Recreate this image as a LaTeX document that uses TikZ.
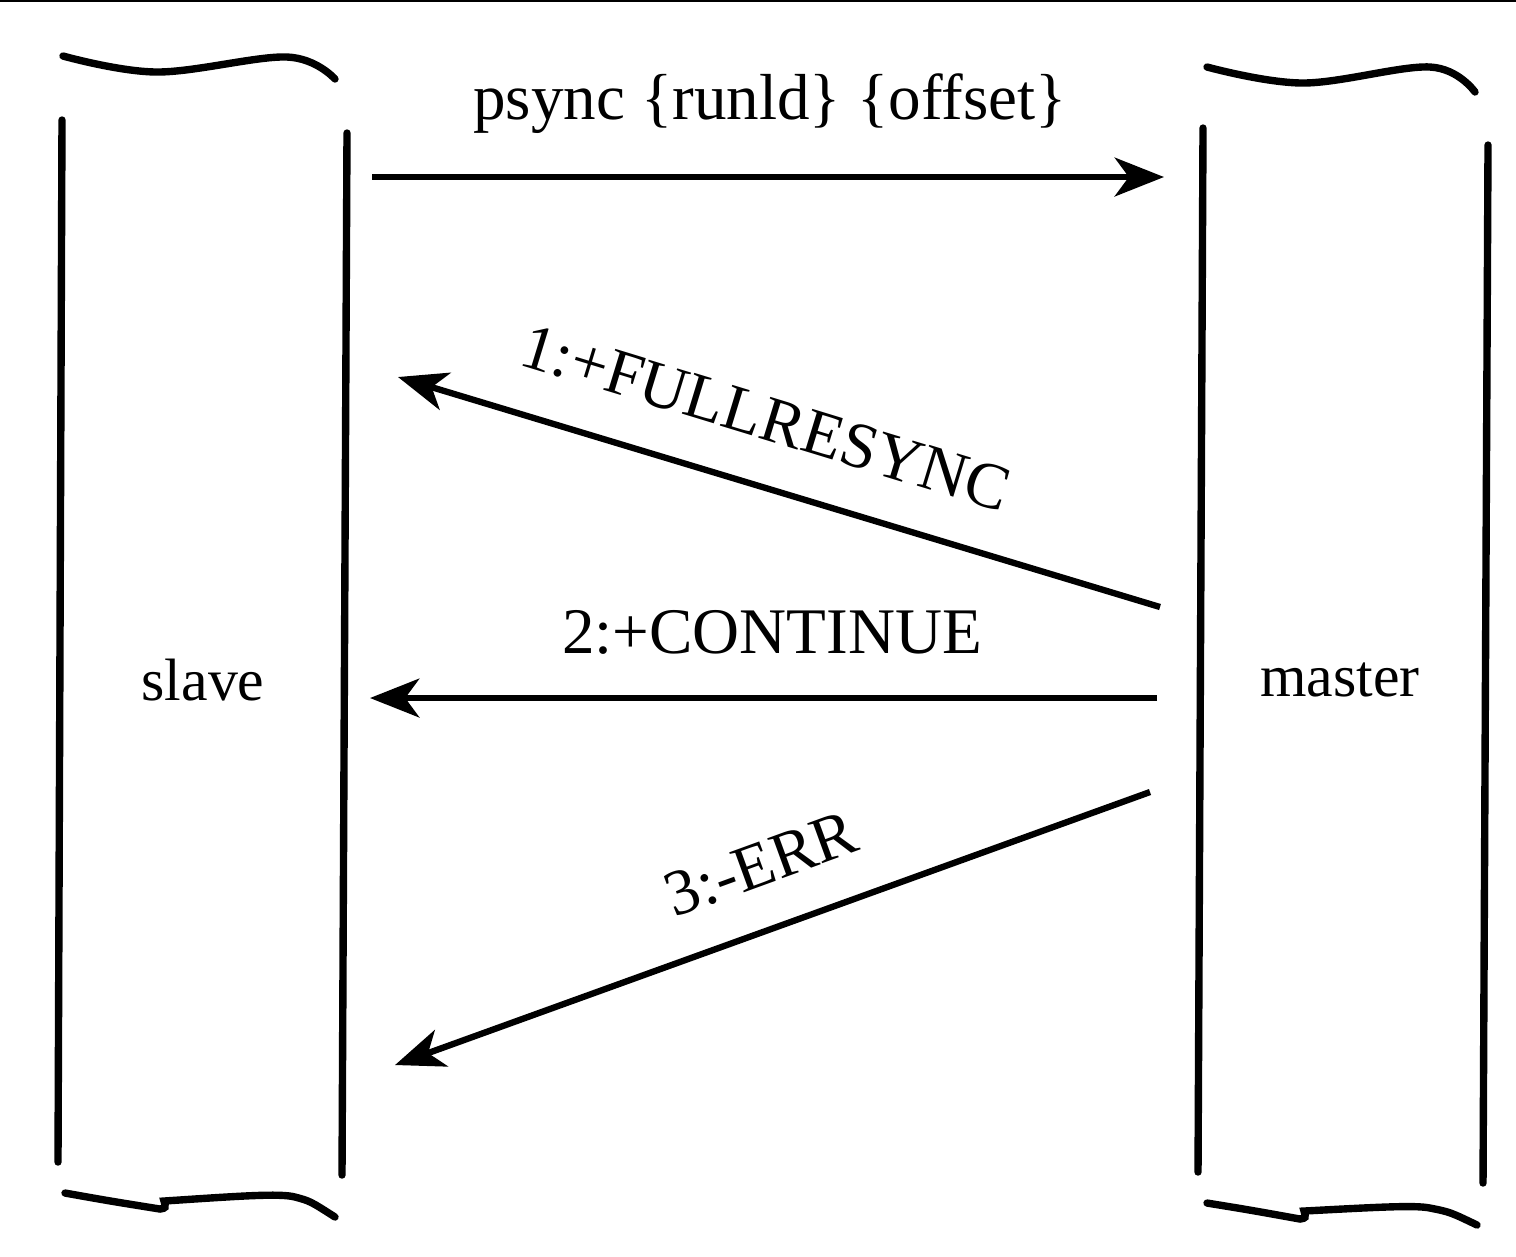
\documentclass[tikz,border=0pt]{standalone}
\usepackage{fontspec}
\setmainfont{Liberation Serif}
\usetikzlibrary{arrows.meta}

\begin{document}
\begin{tikzpicture}[x=0.01cm,y=-0.01cm,
  wall/.style={line width=2.1pt,line cap=round},
  msg/.style={line width=1.8pt,-{Stealth[length=14pt,width=11pt,inset=4pt]}},
  lbl/.style={font=\fontsize{18.5}{22}\selectfont,inner sep=0pt},
  side/.style={font=\fontsize{17}{20}\selectfont,inner sep=0pt}]
\useasboundingbox (0,0) rectangle (1516,1256);
\draw[line width=0.6pt] (0,1) -- (1516,1);

% slave column
\draw[wall] plot[smooth,tension=0.6] coordinates {(63,56) (157,72) (287,57) (335,79)};
\draw[wall] (62,120) -- (58,1162);
\draw[wall] (347,133) -- (342,1175);
\draw[wall] (65,1193) .. controls (110,1201) .. (160,1209) .. controls (166,1208) .. (164,1201)
  .. controls (240,1196) and (280,1193) .. (295,1197) .. controls (310,1201) .. (335,1217);
\node[side] (slave) at (203,680) {slave};

% master column
\draw[wall] plot[smooth,tension=0.6] coordinates {(1207,67) (1303,83) (1430,67) (1475,92)};
\draw[wall] (1203,128) -- (1198,1172);
\draw[wall] (1488,145) -- (1483,1183);
\draw[wall] (1207,1203) .. controls (1250,1210) .. (1300,1219) .. controls (1306,1218) .. (1304,1211)
  .. controls (1380,1207) and (1415,1205) .. (1430,1208) .. controls (1450,1212) .. (1477,1225);
\node[side] (master) at (1340,680) {master};

% messages
\coordinate (s0) at (372,177);
\coordinate (m0) at (1164,177);
\coordinate (m1) at (1160,607);
\coordinate (s1) at (398,377);
\coordinate (m2) at (1157,698);
\coordinate (s2) at (370,698);
\coordinate (m3) at (1150,792);
\coordinate (s3) at (395,1065);

\draw[msg] (s0) -- (m0);
\draw[msg] (m1) -- (s1);
\draw[msg] (m2) -- (s2);
\draw[msg] (m3) -- (s3);

\node[lbl] (psync) at (770,104) {psync \{runld\} \{offset\}};
\node[lbl,rotate=-17] (full) at (766,418) {1:+FULLRESYNC};
\node[lbl] (cont) at (772,632) {2:+CONTINUE};
\node[lbl,rotate=20] (err) at (761,864) {3:-ERR};
\end{tikzpicture}
\end{document}
